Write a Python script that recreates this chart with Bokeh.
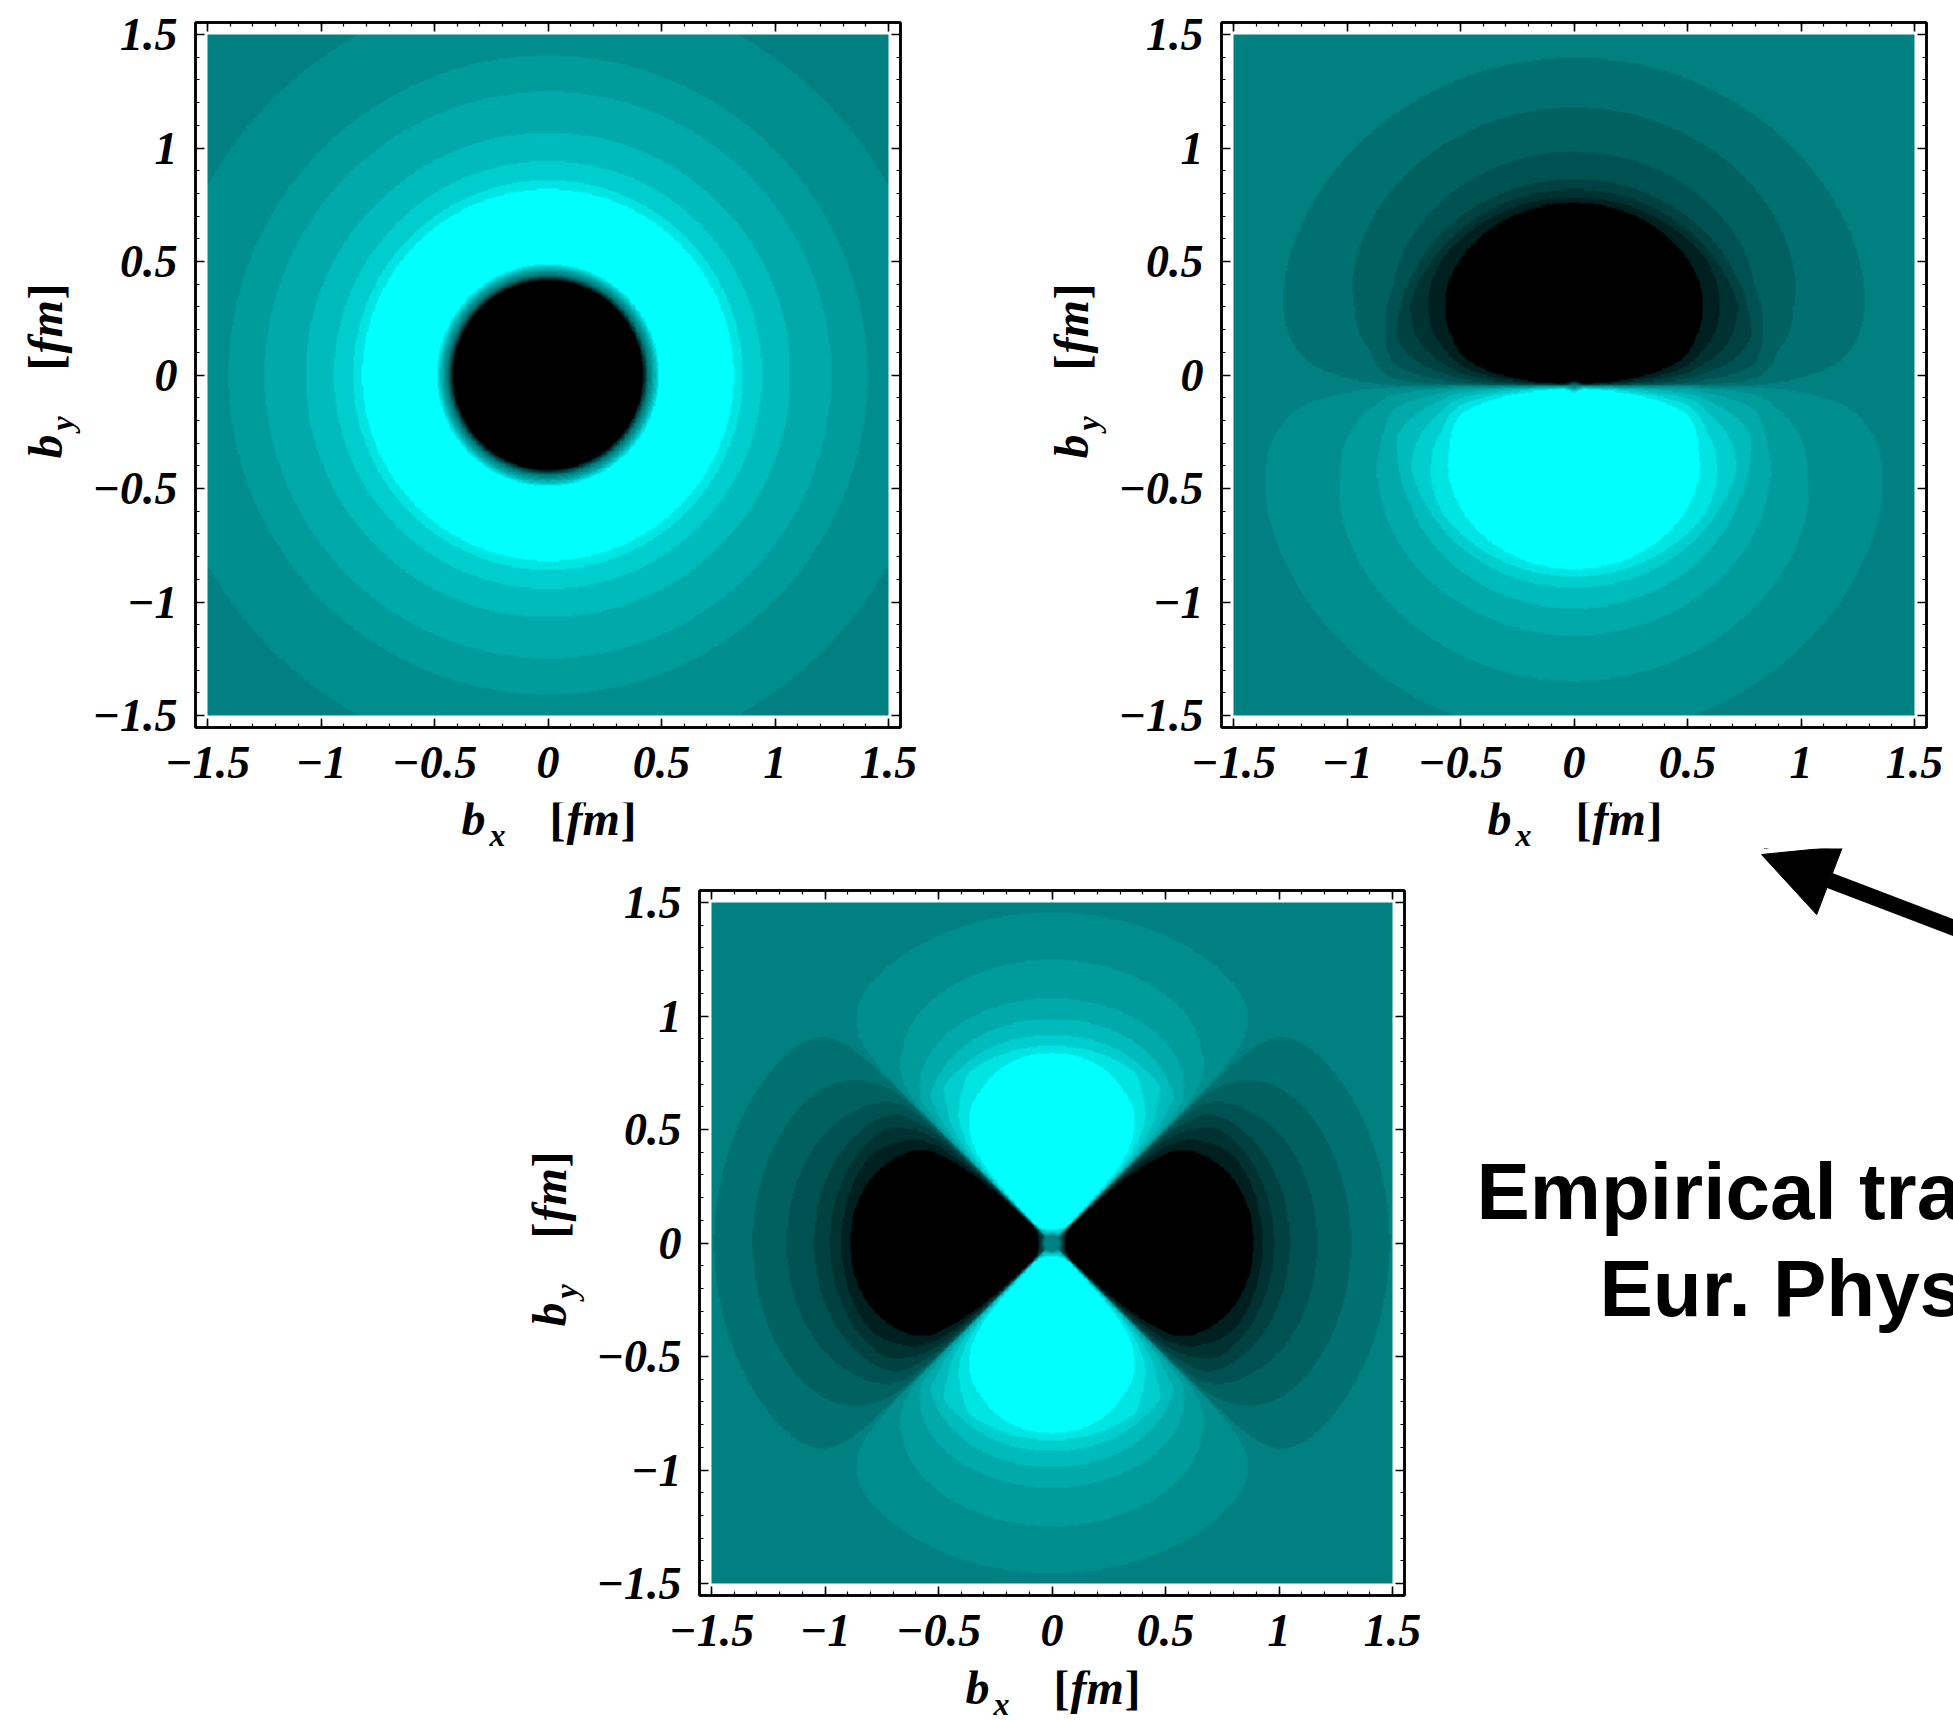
import numpy as np
from bokeh.plotting import figure
from bokeh.models import (Range1d, FixedTicker, LinearAxis, LinearColorMapper, Label,
                          Arrow, NormalHead, CustomLabelingPolicy)
from bokeh.layouts import column, row
from bokeh.embed import file_html
from bokeh.resources import INLINE

# ---------------------------------------------------------------- data
tick_values = [-1.5, -1.0, -0.5, 0.0, 0.5, 1.0, 1.5]
tick_labels = ["\u22121.5", "\u22121", "\u22120.5", "0", "0.5", "1", "1.5"]
minor_values = [round(-1.5 + 0.1 * i, 2) for i in range(31)]

# contour levels of the shading (same on both signs)
level_edges = [0.1, 0.25, 0.4, 0.55, 0.7, 0.85, 1.0]
# green/blue level of each band, from the zero band outwards
pos_levels = [128, 141, 155, 170, 187, 206, 228]
neg_levels = [128, 112, 97, 82, 66, 50, 32]

# monopole density profile rho(b), b in fm
mono_b = [0.00, 0.30, 0.36, 0.42, 0.445, 0.49, 0.55, 0.65, 0.82, 0.86,
          0.945, 1.07, 1.25, 1.41, 1.72, 2.20]
mono_rho = [-3.0, -3.0, -2.0, -1.0, 0.0, 1.0, 1.6, 1.8, 1.0, 0.85,
            0.7, 0.55, 0.4, 0.25, 0.1, 0.05]

# dipole pattern: upper (negative) and lower (positive) lobe profiles
dip_center = -0.05
dip_shape = 0.45
dip_up_b = [0.00, 0.05, 0.15, 0.30, 0.49, 0.585, 0.71, 0.81, 0.835, 0.87,
            0.915, 1.035, 1.23, 1.45, 2.20]
dip_up_rho = [0.0, 2.0, 2.6, 2.4, 1.89, 1.54, 1.245, 1.0, 0.85, 0.7,
              0.55, 0.4, 0.25, 0.1, 0.02]
dip_low_b = [0.00, 0.05, 0.15, 0.30, 0.51, 0.613, 0.711, 0.807, 0.84, 0.89,
             0.98, 1.10, 1.30, 1.55, 2.20]
dip_low_rho = [0.0, 2.0, 2.6, 2.4, 1.92, 1.43, 1.2, 1.0, 0.85, 0.7,
               0.55, 0.4, 0.25, 0.1, 0.02]

# quadrupole pattern: lobes along b_x (negative) and along b_y (positive)
quad_shape = 0.35
quad_x_b = [0.00, 0.03, 0.06, 0.12, 0.30, 0.45, 0.666, 0.80, 0.89, 0.93,
            0.98, 1.05, 1.17, 1.32, 1.49, 2.20]
quad_x_rho = [0.0, 0.0, 1.0, 2.2, 2.3, 2.0, 1.6, 1.2, 1.0, 0.85,
              0.7, 0.55, 0.4, 0.25, 0.1, 0.02]
quad_y_b = [0.00, 0.03, 0.06, 0.12, 0.30, 0.45, 0.62, 0.75, 0.84, 0.87,
            0.92, 0.99, 1.08, 1.25, 1.46, 2.20]
quad_y_rho = [0.0, 0.0, 1.0, 2.2, 2.3, 2.0, 1.5, 1.15, 1.0, 0.85,
              0.7, 0.55, 0.4, 0.25, 0.1, 0.02]

# ---------------------------------------------------------------- grids
N = 560
g = np.linspace(-1.5, 1.5, N)
BX, BY = np.meshgrid(g, g)

R = np.hypot(BX, BY)
rho_mono = np.interp(R, mono_b, mono_rho)

DY = BY - dip_center
R2 = np.hypot(BX, DY) + 1e-12
ang2 = np.abs(DY / R2) ** dip_shape
rho_dip = np.where(DY > 0,
                   -np.interp(R2, dip_up_b, dip_up_rho) * ang2,
                   np.interp(R2, dip_low_b, dip_low_rho) * ang2)

R3 = R + 1e-12
c2 = (BX ** 2 - BY ** 2) / R3 ** 2
ang3 = np.abs(c2) ** quad_shape
rho_quad = np.where(c2 > 0,
                    -np.interp(R3, quad_x_b, quad_x_rho) * ang3,
                    np.interp(R3, quad_y_b, quad_y_rho) * ang3)

# ---------------------------------------------------------------- colours
def hexc(gv):
    return "#00%02x%02x" % (gv, gv)


BIN = 0.05
palette = []
for i in range(int(round(2 / BIN))):
    c = -1 + BIN * (i + 0.5)
    k = sum(abs(c) >= e for e in level_edges)
    palette.append(hexc(pos_levels[k] if c > 0 else neg_levels[k]))
mapper = LinearColorMapper(palette=palette, low=-1.0, high=1.0,
                           low_color="#000000", high_color="#00ffff")

# ---------------------------------------------------------------- panels
FRAME = 705
HALF = 1.5 + 12 / 227
SERIF = "Liberation Serif"
BASE_SHIFT = 0.36  # anchor-to-baseline distance of a Label, in em

no_labels = CustomLabelingPolicy(code="""
for (const i of Array.from(indices)) indices.unset(i)
return indices
""")


def style_axis(ax, labels=True):
    ax.ticker = FixedTicker(ticks=tick_values, minor_ticks=minor_values)
    ax.axis_line_color = "black"
    ax.axis_line_width = 2.5
    ax.major_tick_in = 9
    ax.major_tick_out = 0
    ax.minor_tick_in = 4
    ax.minor_tick_out = 0
    ax.major_tick_line_width = 1.6
    ax.minor_tick_line_width = 1.2
    ax.major_label_text_font = SERIF
    ax.major_label_text_font_style = "bold italic"
    ax.major_label_text_color = "black"
    if labels:
        ax.major_label_text_font_size = "46px"
        ax.major_label_overrides = dict(zip(tick_values, tick_labels))
    else:
        ax.major_label_text_font_size = "0px"
        ax.major_label_standoff = 0
        ax.major_label_policy = no_labels


def panel(field, left, top, right, bottom):
    p = figure(width=left + FRAME + right, height=top + FRAME + bottom,
               title=None,
               min_border_left=left, min_border_right=right,
               min_border_top=top, min_border_bottom=bottom,
               x_range=Range1d(-HALF, HALF), y_range=Range1d(-HALF, HALF),
               output_backend="svg", toolbar_location=None,
               background_fill_color="white", border_fill_color="white",
               outline_line_color="black", outline_line_width=2.5)
    p.grid.visible = False
    p.image(image=[field.astype(np.float32)], x=-1.5, y=-1.5, dw=3, dh=3,
            color_mapper=mapper)
    style_axis(p.xaxis[0])
    p.xaxis[0].major_label_standoff = 19
    style_axis(p.yaxis[0])
    p.yaxis[0].major_label_standoff = 18
    for side in ("above", "right"):
        ax = LinearAxis()
        style_axis(ax, labels=False)
        p.add_layout(ax, side)
    return p


def blank(x0, x1, y0, y1, height=None, yr=None):
    """A bare canvas addressed in page pixels (y measured downward)."""
    ya, yb = yr if yr else (y0, y1)
    f = figure(width=x1 - x0, height=height or (y1 - y0), title=None,
               x_range=Range1d(x0, x1), y_range=Range1d(-yb, -ya),
               x_axis_type=None, y_axis_type=None,
               output_backend="svg", toolbar_location=None, min_border=0,
               outline_line_color=None, background_fill_color="white",
               border_fill_color="white")
    f.grid.visible = False
    return f


def axis_title(f, sub, x, y, rotated):
    # b_sub [fm], laid out piece by piece; (x, y) is the start of the baseline
    pieces = (("b", 0, 0, 48, "bold italic"),
              (sub, 28, 11, 32, "bold italic"),
              ("[", 88, 0, 48, "bold"),
              ("fm", 105, 0, 48, "bold italic"),
              ("]", 159, 0, 48, "bold"))
    for txt, along, perp, size, style in pieces:
        c = BASE_SHIFT * size
        if rotated:
            px, py, ang = x + perp - c, y - along, np.pi / 2
        else:
            px, py, ang = x + along, y + perp - c, 0.0
        f.add_layout(Label(x=px, y=-py, text=txt, angle=ang, text_font=SERIF,
                           text_font_style=style, text_font_size="%dpx" % size,
                           text_color="black", text_baseline="alphabetic",
                           text_align="left"))


# --- top left: monopole
yl1 = blank(0, 84, 0, 802, yr=(22, 727))
p1 = panel(rho_mono, 111, 22, 100, 75)
xl1 = blank(0, 1000, 802, 848)
axis_title(yl1, "y", 62, 458, True)
axis_title(xl1, "x", 461, 835, False)

# --- top right: dipole
yl2 = blank(1000, 1108, 0, 802, yr=(22, 727))
p2 = panel(rho_dip, 113, 22, 27, 75)
xl2 = blank(1000, 1953, 802, 848)
axis_title(yl2, "y", 1088, 458, True)
axis_title(xl2, "x", 1487, 835, False)

# --- bottom: quadrupole
yl3 = blank(0, 588, 848, 1670, yr=(890, 1595))
p3 = panel(rho_quad, 111, 42, 36, 75)
xl3 = blank(0, 1440, 1670, 1720)
axis_title(yl3, "y", 566, 1326, True)
axis_title(xl3, "x", 965, 1704, False)

# --- caption and pointer
p4 = blank(1440, 1953, 848, 1720)
p4.add_layout(Arrow(end=NormalHead(size=73, fill_color="black", line_color="black"),
                    x_start=2010, y_start=-949, x_end=1761, y_end=-854,
                    line_width=16, line_color="black"))
for txt, x, base in (("Empirical tra", 1476, 1220), ("Eur. Phys.", 1599, 1317)):
    p4.add_layout(Label(x=x, y=-(base - BASE_SHIFT * 80), text=txt,
                        text_font="Liberation Sans", text_font_style="bold",
                        text_font_size="80px", text_color="black",
                        text_baseline="alphabetic", text_align="left"))

layout = column(
    row(column(row(yl1, p1), xl1), column(row(yl2, p2), xl2)),
    row(column(row(yl3, p3), xl3), p4),
)
open("out.html", "w").write(file_html(layout, INLINE))
